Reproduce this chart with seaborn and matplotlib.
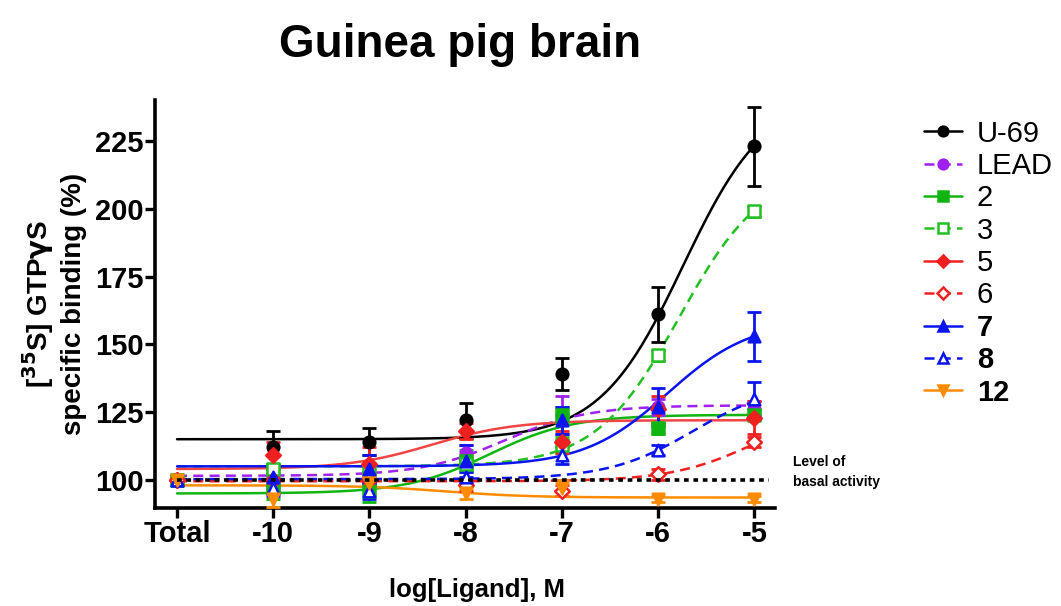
import numpy as np
import pandas as pd
import matplotlib
matplotlib.use("Agg")
import matplotlib.pyplot as plt
import seaborn as sns
from matplotlib.lines import Line2D

# ---------------- data ----------------
x_positions = [-11, -10, -9, -8, -7, -6, -5]
x_ticklabels = ["Total", "-10", "-9", "-8", "-7", "-6", "-5"]
y_ticks = [100, 125, 150, 175, 200, 225]

series_names = ["U-69", "LEAD", "2", "3", "5", "6", "7", "8", "12"]

u69_mean = [100, 112, 114, 122, 139, 161, 223]
u69_err = [0, 6, 5, 6.5, 6, 10, 14.5]
lead_mean = [100, 102, 101, 110, 124, 127, 126]
lead_err = [0, 2, 2, 3, 7, 3, 3]
c2_mean = [100, 97, 96, 107, 124, 119, 124]
c2_err = [0, 4, 4, 4, 3, 2, 2]
c3_mean = [100, 104, 104, 106, 113, 146, 199]
c3_err = [0, 2, 2, 2, 3, 2, 2]
c5_mean = [100, 109, 106, 118, 114, 126, 123]
c5_err = [0, 5, 6, 3, 4, 5, 6]
c6_mean = [100, 100, 100, 98, 96, 102, 114]
c6_err = [0, 2, 2, 2, 2, 2, 2]
c7_mean = [100, 101, 104, 107, 122, 127, 153]
c7_err = [0, 4, 5, 6, 5, 7, 9]
c8_mean = [100, 97, 96, 101, 109, 111, 130]
c8_err = [0, 3, 3, 2, 3, 2, 6]
c12_mean = [100, 93, 99, 95, 97, 93, 93]
c12_err = [0, 3, 2, 2, 3, 1, 1]

# sigmoidal dose-response fit parameters (bottom, top, logEC50) per series
fit_bottom = [115, 101.5, 95, 105, 104, 99.5, 105, 100.3, 98]
fit_top = [243, 127.5, 124, 215, 122, 127, 159, 135.6, 93.5]
fit_logec50 = [-5.74, -7.6, -7.75, -5.78, -8.35, -5.0, -5.9, -5.64, -8.2]

basal_level = 100

means = [u69_mean, lead_mean, c2_mean, c3_mean, c5_mean, c6_mean, c7_mean, c8_mean, c12_mean]
errs = [u69_err, lead_err, c2_err, c3_err, c5_err, c6_err, c7_err, c8_err, c12_err]

# ---------------- styles ----------------
colors = ["#000000", "#A020F0", "#11B511", "#22C022", "#F02020",
          "#F02020", "#0A14F0", "#0A14F0", "#FF8C00"]
line_colors = ["#000000", "#A020F0", "#11B511", "#22C022", "#F04545",
               "#F02020", "#0A14F0", "#0A14F0", "#FF8C00"]
dashed = [False, True, False, True, False, True, False, True, False]
markers = ["o", "o", "s", "s", "D", "D", "^", "^", "v"]
filled = [True, True, True, False, True, False, True, False, True]
legend_bold = [False, False, False, False, False, False, True, True, True]

sns.set_theme(style="white")
plt.rcParams["font.family"] = ["Liberation Sans", "DejaVu Sans"]
plt.rcParams["text.color"] = "black"
plt.rcParams["axes.labelcolor"] = "black"
plt.rcParams["xtick.color"] = "black"
plt.rcParams["ytick.color"] = "black"

fig = plt.figure(figsize=(10.61, 6.06), dpi=100)
ax = fig.add_axes([0.146, 0.162, 0.584, 0.673])

xfit = np.linspace(-11, -5, 300)
dash_pattern = (4, 2.5)

for i, name in enumerate(series_names):
    yfit = fit_bottom[i] + (fit_top[i] - fit_bottom[i]) / (1 + 10 ** (fit_logec50[i] - xfit))
    df = pd.DataFrame({"x": xfit, "y": yfit})
    l = sns.lineplot(data=df, x="x", y="y", ax=ax, color=line_colors[i], lw=1.8,
                     legend=False, zorder=3)
    if dashed[i]:
        l.lines[-1].set_dashes(dash_pattern)

for i, name in enumerate(series_names):
    ax.errorbar(x_positions, means[i], yerr=errs[i], fmt="none", ecolor=colors[i],
                elinewidth=2.0, capsize=5, capthick=2.0, zorder=4)
    pts = pd.DataFrame({"x": x_positions, "y": means[i]})
    sns.scatterplot(data=pts, x="x", y="y", ax=ax, marker=markers[i],
                    s=70 if markers[i] != "D" else 55,
                    color=colors[i] if filled[i] else "white",
                    edgecolor=colors[i], linewidth=1.8, zorder=5, legend=False)

# basal activity level
ax.plot([-11, -4.85], [basal_level, basal_level], color="black", lw=2.6,
        linestyle=(0, (1.3, 1.3)), zorder=6, clip_on=False)
ax.text(-4.6, 103.0, "Level of\nbasal activity", fontsize=10, fontweight="bold",
        ha="left", va="center", linespacing=1.55)

ax.set_xlim(-11.23, -4.79)
ax.set_ylim(89.7, 240.1)
ax.set_xticks(x_positions)
ax.set_xticklabels(x_ticklabels)
ax.set_yticks(y_ticks)

for s in ["top", "right"]:
    ax.spines[s].set_visible(False)
for s in ["left", "bottom"]:
    ax.spines[s].set_linewidth(2.6)
    ax.spines[s].set_color("black")
ax.tick_params(axis="both", which="major", direction="out", length=7, width=2.4,
               labelsize=21, pad=2, bottom=True, left=True, colors="black")
ax.tick_params(axis="y", pad=1)
for lab in ax.get_xticklabels() + ax.get_yticklabels():
    lab.set_fontweight("bold")

ax.set_xlabel("log[Ligand], M", fontsize=18.5, fontweight="bold")
ax.xaxis.set_label_coords(0.52, -0.172)
ax.set_ylabel("[$\\mathbf{^{35}}$S] GTP$\\mathbf{\\gamma}$S\nspecific binding (%)",
              fontsize=20, fontweight="bold", linespacing=1.25)
ax.yaxis.set_label_coords(-0.11, 0.5)
ax.grid(False)

fig.suptitle("Guinea pig brain", fontsize=33, fontweight="bold", x=0.434, y=0.962)

handles = []
for i, name in enumerate(series_names):
    h = Line2D([0], [0], color=colors[i], lw=1.8,
               linestyle=(0, dash_pattern) if dashed[i] else "-",
               marker=markers[i], markersize=7 if markers[i] != "D" else 6.5,
               markerfacecolor=colors[i] if filled[i] else "white",
               markeredgecolor=colors[i], markeredgewidth=1.8)
    handles.append(h)
leg = fig.legend(handles, series_names, loc="upper left", bbox_to_anchor=(0.860, 0.822),
                 frameon=False, fontsize=21, handlelength=1.3, handletextpad=0.5,
                 labelspacing=0.15, borderaxespad=0)
for t, b in zip(leg.get_texts(), legend_bold):
    if b:
        t.set_fontweight("bold")

fig.savefig("out.png", dpi=100)
